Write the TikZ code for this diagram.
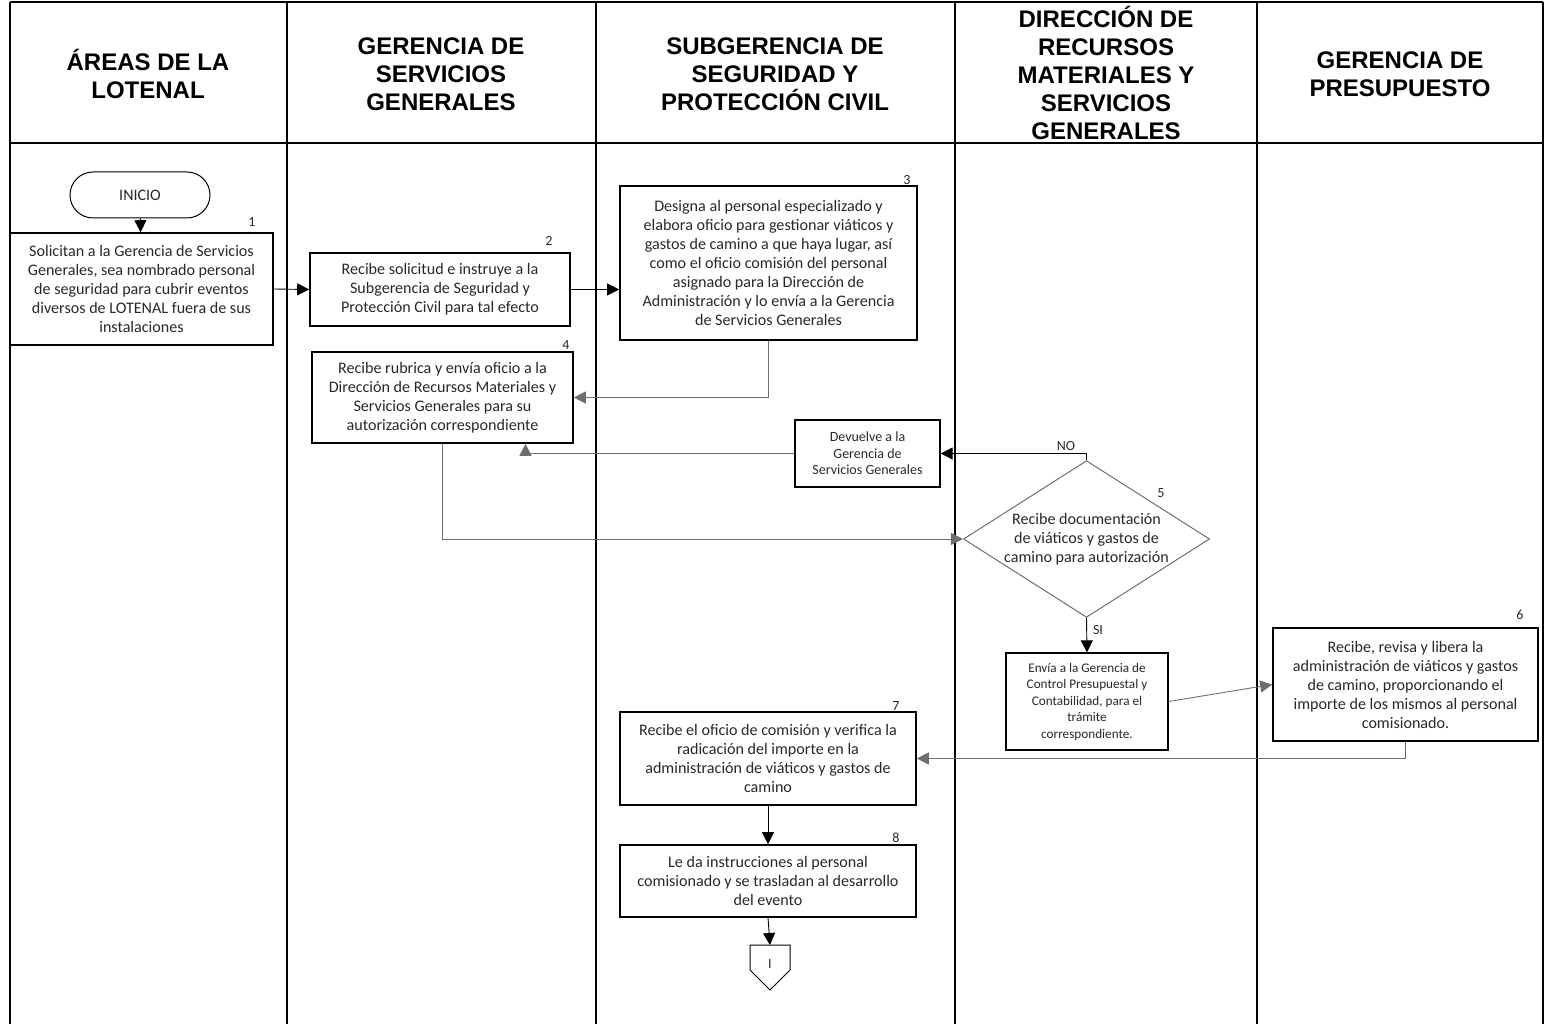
\documentclass[tikz,border=0pt]{standalone}
\usepackage{fontspec}
\setmainfont{Carlito}
\newfontfamily\headfont{Liberation Sans}
\usetikzlibrary{shapes.geometric,arrows.meta}

\definecolor{linea}{RGB}{110,110,110}
\definecolor{texto}{RGB}{40,40,40}

\begin{document}
\begin{tikzpicture}[x=1pt,y=-1pt,
  marco/.style={line width=2.4pt},
  caja/.style={draw,line width=1.6pt,align=center,inner sep=0pt,text=texto,font=\fontsize{16.1}{19}\selectfont},
  cajachica/.style={caja,line width=1.3pt,font=\fontsize{13.5}{16.5}\selectfont},
  titulo/.style={align=center,font=\headfont\bfseries\fontsize{24}{28}\selectfont},
  num/.style={text=texto,font=\fontsize{14}{16}\selectfont},
  flecha/.style={line width=0.9pt,-{Triangle[length=12pt,width=12pt]}},
  flechagris/.style={flecha,draw=linea}]
%\draw[step=100,gray,very thin] (0,0) grid (1545,1024);
\useasboundingbox (0,0) rectangle (1545,1024);

% marco y carriles
\draw[marco](10,2) -- (1543,2);

\draw[marco](10,143) -- (1543,143);

\foreach \x in {10,287,596,955,1257,1543}
  \draw[marco](\x,2) -- (\x,1024);

\node[titulo] (t1) at (148,74) {ÁREAS DE LA\\LOTENAL};

\node[titulo] (t2) at (441,74) {GERENCIA DE\\SERVICIOS\\GENERALES};

\node[titulo] (t3) at (775,74) {SUBGERENCIA DE\\SEGURIDAD Y\\PROTECCIÓN CIVIL};

\node[titulo] (t4) at (1106,73) {DIRECCIÓN DE\\RECURSOS\\MATERIALES Y\\SERVICIOS\\GENERALES};

\node[titulo] (t5) at (1400,74) {GERENCIA DE\\PRESUPUESTO};

% pasos
\node[caja,line width=1pt,rounded corners=23pt,minimum width=140,minimum height=46,font=\fontsize{16}{19}\selectfont] (inicio) at (140,195) {INICIO};

\node[caja,minimum width=263,minimum height=112] (paso1) at (141.5,289) {Solicitan a la Gerencia de Servicios\\Generales, sea nombrado personal\\de seguridad para cubrir eventos\\diversos de LOTENAL fuera de sus\\instalaciones};
\node[num] (n1) at (252,222) {1};

\node[caja,minimum width=260,minimum height=73] (paso2) at (440,289.5) {Recibe solicitud e instruye a la\\Subgerencia de Seguridad y\\Protección Civil para tal efecto};
\node[num] (n2) at (549,241) {2};

\node[caja,minimum width=297,minimum height=154] (paso3) at (768.5,263) {Designa al personal especializado y\\elabora oficio para gestionar viáticos y\\gastos de camino a que haya lugar, así\\como el oficio comisión del personal\\asignado para la Dirección de\\Administración y lo envía a la Gerencia\\de Servicios Generales};
\node[num] (n3) at (907,180) {3};

\node[caja,minimum width=261,minimum height=91] (paso4) at (442.5,397.5) {Recibe rubrica y envía oficio a la\\Dirección de Recursos Materiales y\\Servicios Generales para su\\autorización correspondiente};
\node[num] (n4) at (566,345) {4};

\node[cajachica,font=\fontsize{14}{16.5}\selectfont,minimum width=145,minimum height=67] (devuelve) at (867.5,453.5) {Devuelve a la\\Gerencia de\\Servicios Generales};

\node[caja,draw=linea,line width=1pt,shape=diamond,aspect=1.57,minimum width=239,minimum height=152] (decision) at (1086.5,539) {Recibe documentación\\de viáticos y gastos de\\camino para autorización};
\node[num] (n5) at (1161,493) {5};

\node[cajachica,font=\fontsize{13.2}{16.5}\selectfont,minimum width=162,minimum height=97] (envia) at (1087,701.5) {Envía a la Gerencia de\\Control Presupuestal y\\Contabilidad, para el\\trámite\\correspondiente.};

\node[caja,minimum width=265,minimum height=113] (paso6) at (1405.5,684.5) {Recibe, revisa y libera la\\administración de viáticos y gastos\\de camino, proporcionando el\\importe de los mismos al personal\\comisionado.};
\node[num] (n6) at (1520,615) {6};

\node[caja,minimum width=296,minimum height=93] (paso7) at (768,758.5) {Recibe el oficio de comisión y verifica la\\radicación del importe en la\\administración de viáticos y gastos de\\camino};
\node[num] (n7) at (896,706) {7};

\node[caja,minimum width=296,minimum height=72] (paso8) at (768,881) {Le da instrucciones al personal\\comisionado y se trasladan al desarrollo\\del evento};
\node[num] (n8) at (896,838) {8};

% conector fuera de pagina
\draw[line width=1pt](750,945) -- (790,945) -- (790,970) -- (770,990) -- (750,970) -- cycle;
\coordinate (fintop) at (770,945);
\node[num] (fin) at (770,964) {I};

% flujo
\draw[flecha](inicio) -- (paso1);

\draw[flecha](paso1.east) -- (paso2.west);

\draw[flecha](paso2.east) -- (paso2.east -| paso3.west);

\draw[flechagris](paso3.south) |- (paso4.east);

\draw[flechagris](devuelve.west) -| ([xshift=83pt]paso4.south);

\draw[flechagris](paso4.south) |- (decision.west);

\draw[flecha](decision.north) |- (devuelve.east);
\node[num] (no) at (1066,446) {NO};

\draw[flecha](decision.south) -- (envia.north);
\node[num] (si) at (1098,630) {SI};

\draw[flechagris](envia.east) -- (paso6.west);

\draw[flechagris](paso6.south) |- (paso7.east);

\draw[flecha](paso7) -- (paso8);

\draw[flecha](paso8.south) -- (fintop);

\end{tikzpicture}
\end{document}
